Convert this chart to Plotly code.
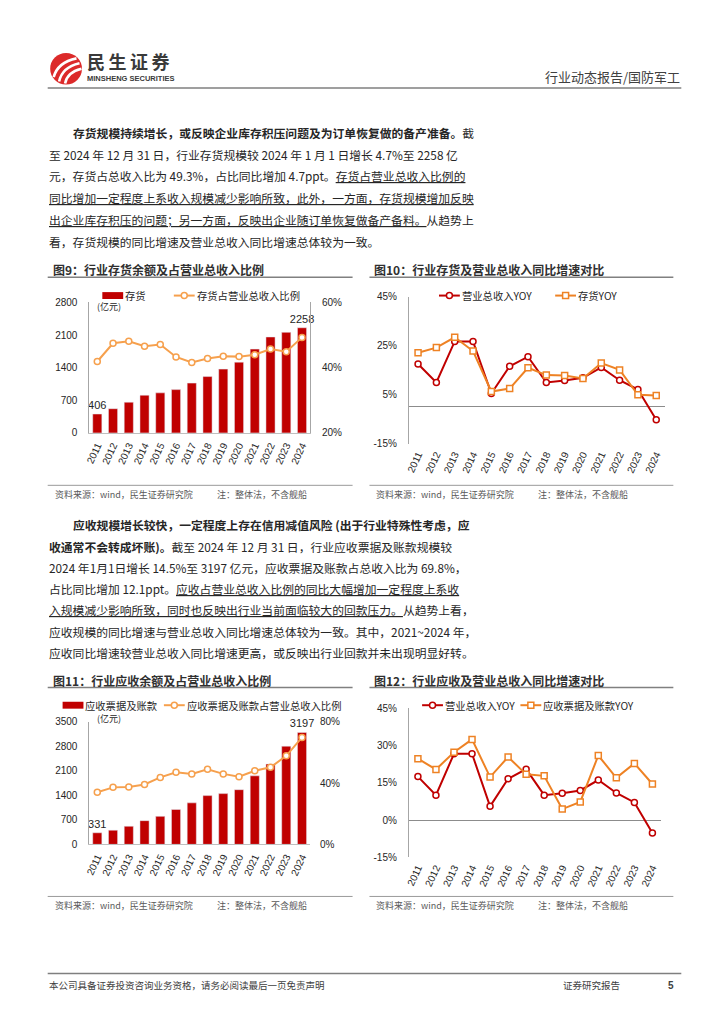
import plotly.graph_objects as go

W, H = 724, 1024
def px(x): return x / W
def py(y): return 1 - y / H

# ---------------- data ----------------
years = [str(y) for y in range(2011, 2025)]
inventory = [406, 520, 660, 810, 860, 930, 1070, 1210, 1370, 1520, 1800, 2060, 2160, 2258]
inventory_ratio = [41.9, 47.5, 48.1, 46.6, 47.1, 43.3, 41.6, 42.8, 43.5, 43.4, 44.0, 45.7, 44.9, 49.3]
revenue_yoy = [17.5, 10.0, 26.7, 26.7, 5.5, 16.6, 20.5, 10.0, 10.8, 11.9, 16.1, 10.9, 7.1, -5.2]
inventory_yoy = [22.1, 24.2, 28.4, 22.8, 6.3, 7.5, 16.0, 13.0, 12.8, 11.6, 17.9, 15.1, 5.0, 4.7]
receivables = [331, 405, 517, 677, 800, 997, 1185, 1392, 1449, 1562, 1957, 2296, 2804, 3197]
receivables_ratio = [34.0, 37.2, 37.4, 39.1, 43.7, 47.1, 46.0, 49.0, 46.0, 44.1, 48.0, 50.3, 57.8, 69.8]
receivables_yoy = [24.7, 20.4, 27.3, 32.5, 17.3, 25.4, 18.4, 17.8, 4.4, 7.3, 26.0, 17.0, 22.8, 14.5]

inv_ticks = [0, 700, 1400, 2100, 2800]
inv_ratio_ticks = [20, 40, 60]
yoy_ticks10 = [-15, 5, 25, 45]
rec_ticks = [0, 700, 1400, 2100, 2800, 3500]
rec_ratio_ticks = [0, 40, 80]
yoy_ticks12 = [-15, 0, 15, 30, 45]

def end_labels(vals):
    return [str(v) if i in (0, len(vals) - 1) else '' for i, v in enumerate(vals)]

RED = '#C00000'
ORANGE_L = '#F6A04D'
ORANGE = '#EE8224'
CJK = 'Noto Sans CJK SC'
NUM = 'Liberation Sans, Arial, Noto Sans CJK SC'
TXT = '#262626'
GRAY = '#8C8C8C'

fig = go.Figure()

bar_common = dict(marker_color=RED, width=0.58, textposition='outside', cliponaxis=False,
                  constraintext='none', textfont=dict(family=NUM, size=11, color=TXT))

def line_trace(y, xa, ya, color, sym):
    return go.Scatter(x=years, y=y, mode='lines+markers', xaxis=xa, yaxis=ya, cliponaxis=False,
                      line=dict(color=color, width=2),
                      marker=dict(symbol=sym, size=6, color='white', line=dict(color=color, width=1.5)))

# chart 9
fig.add_trace(go.Bar(x=years, y=inventory, text=end_labels(inventory), xaxis='x', yaxis='y', **bar_common))
fig.add_trace(line_trace(inventory_ratio, 'x', 'y2', ORANGE_L, 'circle'))
# chart 10
fig.add_trace(line_trace(revenue_yoy, 'x2', 'y3', RED, 'circle'))
fig.add_trace(line_trace(inventory_yoy, 'x2', 'y3', ORANGE, 'square'))
# chart 11
fig.add_trace(go.Bar(x=years, y=receivables, text=end_labels(receivables), xaxis='x3', yaxis='y4', **bar_common))
fig.add_trace(line_trace(receivables_ratio, 'x3', 'y5', ORANGE_L, 'circle'))
# chart 12
fig.add_trace(line_trace(revenue_yoy, 'x4', 'y6', RED, 'circle'))
fig.add_trace(line_trace(receivables_yoy, 'x4', 'y6', ORANGE, 'square'))

tickfont = dict(family=NUM, size=10, color=TXT)

def xcat(dom, anchor, showline):
    return dict(domain=dom, anchor=anchor, type='category', range=[-0.5, 13.5], tickangle=-65,
                tickfont=tickfont, showline=showline, linecolor='#BFBFBF', linewidth=1,
                showgrid=False, zeroline=False, ticks='', ticklabelstandoff=2, fixedrange=True)

def yax(dom, anchor, rng, vals, texts, side='left', showline=True, overlaying=None, zeroline=False):
    d = dict(domain=dom, anchor=anchor, range=rng, tickvals=vals, ticktext=texts, side=side,
             tickfont=tickfont, showline=showline, linecolor='#A6A6A6', linewidth=1,
             showgrid=False, zeroline=zeroline, zerolinecolor='#8C8C8C', zerolinewidth=1,
             ticks='', ticklabelstandoff=9, ticklabeloverflow='allow', fixedrange=True)
    if overlaying:
        d['overlaying'] = overlaying
        d.pop('domain')
    return d

pct = lambda v: [f'{t}%' for t in v]

fig.update_layout(
    width=W, height=H, autosize=False, margin=dict(l=0, r=0, t=0, b=0),
    paper_bgcolor='white', plot_bgcolor='rgba(0,0,0,0)', showlegend=False,
    xaxis=xcat([px(85), px(307)], 'y', True),
    yaxis=yax([py(432), py(300)], 'x', [0, 2800.5], inv_ticks, [str(t) for t in inv_ticks]),
    yaxis2=yax(None, 'x', [20, 60], inv_ratio_ticks, pct(inv_ratio_ticks), side='right', overlaying='y'),
    xaxis2=xcat([px(406.7), px(665)], 'y3', False),
    yaxis3=yax([py(443), py(294)], 'x2', [-15, 45], yoy_ticks10, pct(yoy_ticks10), zeroline=True),
    xaxis3=xcat([px(85), px(307)], 'y4', True),
    yaxis4=yax([py(848.3), py(724.3)], 'x3', [0, 3500], rec_ticks, [str(t) for t in rec_ticks]),
    yaxis5=yax(None, 'x3', [0, 80], rec_ratio_ticks, pct(rec_ratio_ticks), side='right', overlaying='y4', showline=False),
    xaxis4=xcat([px(406.7), px(661)], 'y6', False),
    yaxis6=yax([py(861.3), py(710.7)], 'x4', [-15, 45], yoy_ticks12, pct(yoy_ticks12), zeroline=True),
)

ann = []
shapes = []

def text(x, y, s, size=12, color=TXT, anchor='left', family=CJK, yanchor='middle'):
    ann.append(dict(xref='paper', yref='paper', x=px(x), y=py(y), text=s, showarrow=False, align='left',
                    xanchor=anchor, yanchor=yanchor, borderpad=0,
                    font=dict(size=size, color=color, family=family)))

def hline(x0, x1, y, color=GRAY, width=1.2):
    shapes.append(dict(type='line', xref='paper', yref='paper', x0=px(x0), x1=px(x1), y0=py(y), y1=py(y),
                       line=dict(color=color, width=width)))

# ---------------- header ----------------
shapes.append(dict(type='circle', xref='paper', yref='paper', x0=px(45.5), x1=px(77.5), y0=py(79.5), y1=py(47.5),
                   fillcolor='#DC2A2A', line=dict(width=0)))
def path(pts):
    (x0, y0), (cx, cy), (x1, y1) = pts
    return f'M {px(x0)},{py(y0)} Q {px(cx)},{py(cy)} {px(x1)},{py(y1)}'
for p, w in [([(49, 72), (53, 57), (72, 53)], 2.6), ([(54.5, 76.5), (57.5, 62), (75, 58)], 2.6),
             ([(60.5, 78.5), (62.5, 67), (77, 63.5)], 2.6)]:
    shapes.append(dict(type='path', xref='paper', yref='paper', path=path(p), line=dict(color='white', width=w)))
text(82, 55.5, '<span style="letter-spacing:3.5px"><b>民生证券</b></span>', size=18, color='#3A3A3A')
text(82, 73.3, '<b>MINSHENG SECURITIES</b>', size=7.5, color='#3A3A3A', family='Liberation Sans')
text(681, 71, '行业动态报告/国防军工', size=13, color='#404040', anchor='right')
hline(43, 681, 83, color='#7F7F7F', width=1.5)

# ---------------- paragraph 1 ----------------
p1 = [
    (67, '<b>存货规模持续增长，或反映企业库存积压问题及为订单恢复做的备产准备。</b>截'),
    (43, '至 2024 年 12 月 31 日，行业存货规模较 2024 年 1 月 1 日增长 4.7%至 2258 亿'),
    (43, '元，存货占总收入比为 49.3%，占比同比增加 4.7ppt。<u>存货占营业总收入比例的</u>'),
    (43, '<u>同比增加一定程度上系收入规模减少影响所致，此外，一方面，存货规模增加反映</u>'),
    (43, '<u>出企业库存积压的问题；另一方面，反映出企业随订单恢复做备产备料。</u>从趋势上'),
    (43, '看，存货规模的同比增速及营业总收入同比增速总体较为一致。'),
]
for i, (x, s) in enumerate(p1):
    text(x, 128 + 22 * i, s, size=11.8)

# ---------------- paragraph 2 ----------------
p2 = [
    (67, '<b>应收规模增长较快，一定程度上存在信用减值风险 (出于行业特殊性考虑，应</b>'),
    (43, '<b>收通常不会转成坏账)。</b>截至 2024 年 12 月 31 日，行业应收票据及账款规模较'),
    (43, '2024 年1月1日增长 14.5%至 3197 亿元，应收票据及账款占总收入比为 69.8%，'),
    (43, '占比同比增加 12.1ppt。<u>应收占营业总收入比例的同比大幅增加一定程度上系收</u>'),
    (43, '<u>入规模减少影响所致，同时也反映出行业当前面临较大的回款压力。</u>从趋势上看，'),
    (43, '应收规模的同比增速与营业总收入同比增速总体较为一致。其中，2021~2024 年，'),
    (43, '应收同比增速较营业总收入同比增速更高，或反映出行业回款并未出现明显好转。'),
]
for i, (x, s) in enumerate(p2):
    text(x, 525 + 21.5 * i, s, size=11.8)

# ---------------- chart frames ----------------
def frame(x0, x1, title_y, src_y, title):
    text(x0 + 4, title_y, f'<b>{title}</b>', size=12, color='#303030')
    hline(x0, x1, title_y + 7.5, color='#808080', width=1.5)
    hline(x0, x1, src_y, color='#9A9A9A', width=1)
    text(x0 + 6, src_y + 9, '资料来源：wind，民生证券研究院', size=9, color='#595959')
    text(x0 + 169, src_y + 9, '注：整体法，不含舰船', size=9, color='#595959')

frame(43, 350, 267, 485, '图9：行业存货余额及占营业总收入比例')
frame(367, 673, 267, 485, '图10：行业存货及营业总收入同比增速对比')
frame(43, 350, 682, 901, '图11：行业应收余额及占营业总收入比例')
frame(367, 673, 682, 901, '图12：行业应收及营业总收入同比增速对比')

# ---------------- legends ----------------
def leg_bar(x, y, label):
    shapes.append(dict(type='rect', xref='paper', yref='paper', x0=px(x), x1=px(x + 21), y0=py(y + 3.5), y1=py(y - 3.5),
                       fillcolor=RED, line=dict(width=0)))
    text(x + 22, y, label, size=10.3)

def leg_line(x, y, label, color, sym):
    shapes.append(dict(type='line', xref='paper', yref='paper', x0=px(x), x1=px(x + 21), y0=py(y), y1=py(y),
                       line=dict(color=color, width=2)))
    c = x + 10.5
    shapes.append(dict(type=sym, xref='paper', yref='paper', x0=px(c - 3), x1=px(c + 3), y0=py(y + 3), y1=py(y - 3),
                       fillcolor='white', line=dict(color=color, width=1.5)))
    text(x + 22, y, label, size=10.3)

leg_bar(98, 293, '存货')
leg_line(170, 293, '存货占营业总收入比例', ORANGE_L, 'circle')
leg_line(437, 293, '营业总收入YOY', RED, 'circle')
leg_line(554, 293, '存货YOY', ORANGE, 'rect')
leg_bar(58, 707.5, '应收票据及账款')
leg_line(160, 707.5, '应收票据及账款占营业总收入比例', ORANGE_L, 'circle')
leg_line(420, 707.5, '营业总收入YOY', RED, 'circle')
leg_line(519, 707.5, '应收票据及账款YOY', ORANGE, 'rect')

text(92, 304, '(亿元)', size=9)
text(92, 720.5, '(亿元)', size=9)

# ---------------- footer ----------------
hline(43, 681, 979, color='#7F7F7F', width=1.5)
text(43, 991, '本公司具备证券投资咨询业务资格，请务必阅读最后一页免责声明', size=9.5, color='#404040')
text(561, 991, '证券研究报告', size=9.5, color='#404040')
text(675, 991, '<b>5</b>', size=10, color='#404040', family=NUM, anchor='right')

fig.update_layout(annotations=ann, shapes=shapes)

fig.write_html("out.html", config={'displayModeBar': False, 'staticPlot': True},
               post_script="document.body.style.margin='0';document.body.style.overflow='hidden';")
